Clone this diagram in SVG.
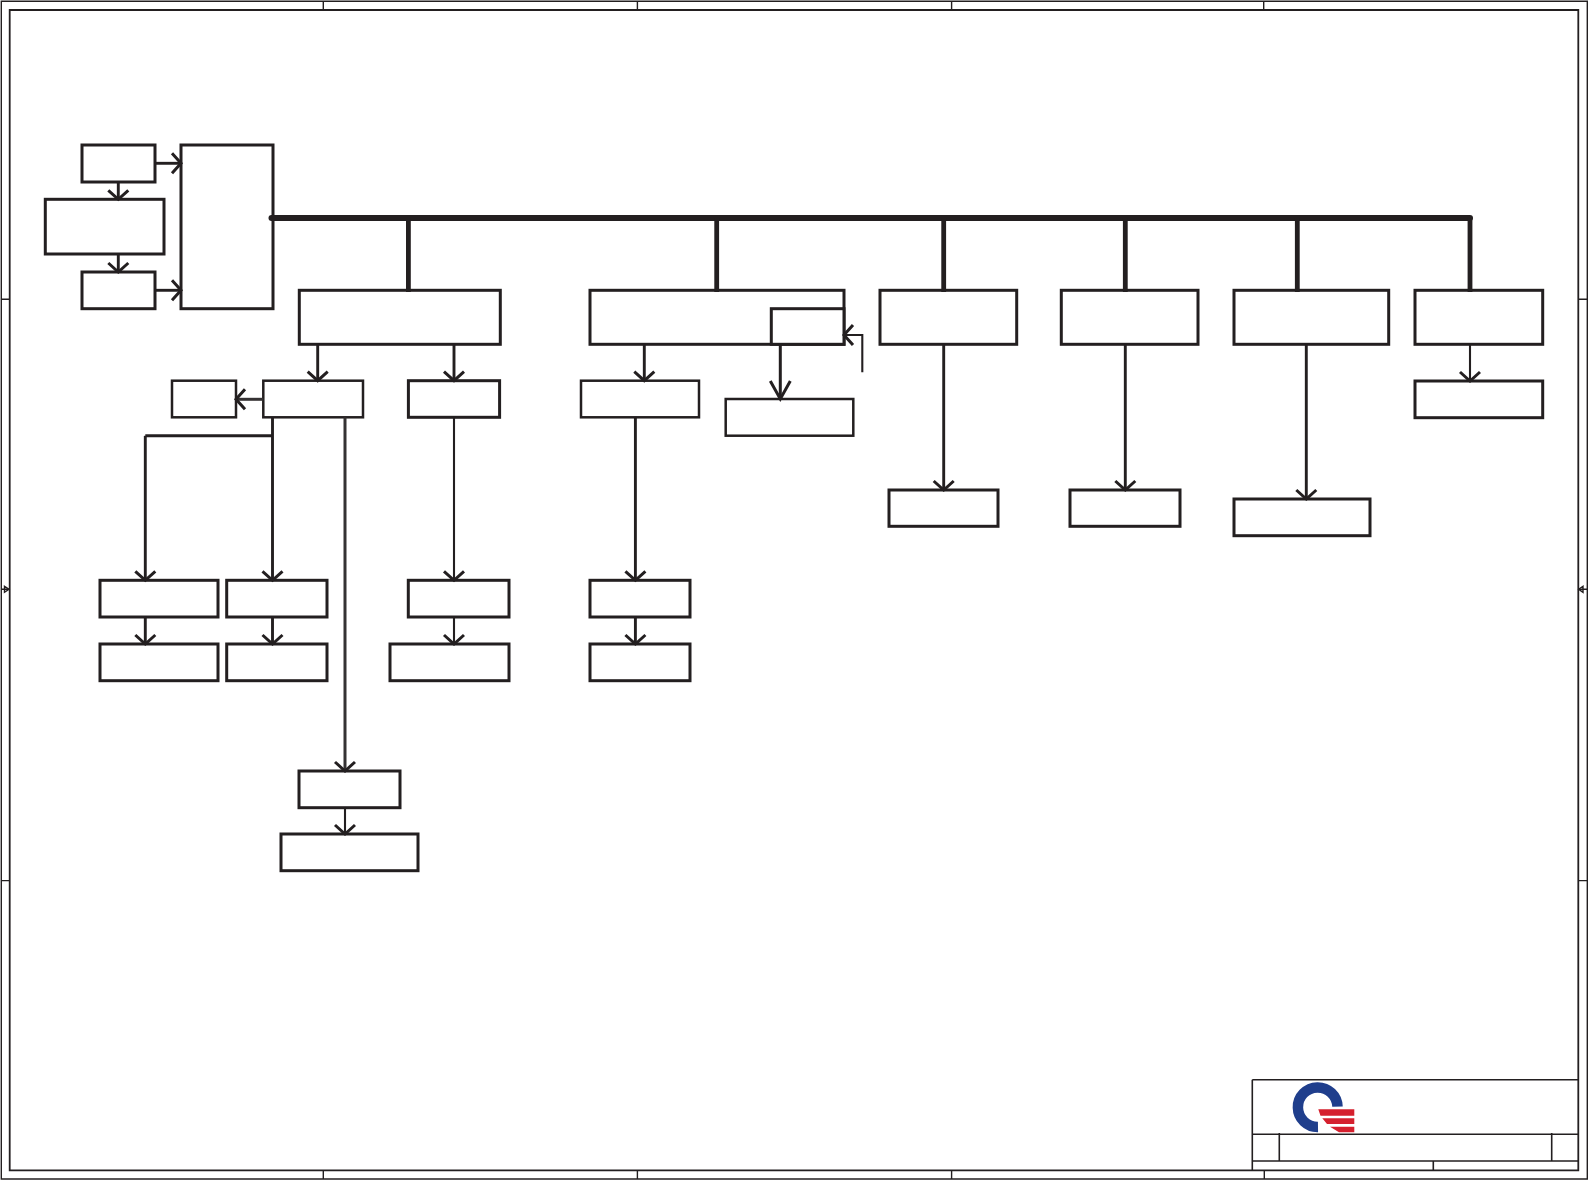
<svg xmlns="http://www.w3.org/2000/svg" width="1589" height="1180" viewBox="0 0 1589 1180">
<style>
.n rect{fill:#fff;stroke:#231f20;stroke-width:3}
.n rect.t{stroke-width:2.5}
#connectors path{fill:none;stroke:#231f20;stroke-width:2.9}
#connectors path.a{marker-end:url(#ah)}
#connectors path.big{marker-end:url(#ahb);stroke-width:3}
#connectors path.thin{stroke-width:2.1}
#connectors path.gray{stroke:#353233;stroke-width:3}
#connectors path.drop{stroke-width:4.8}
#connectors path.bus{stroke-width:6;stroke-linecap:round;stroke-linejoin:round}
#frame path{fill:none;stroke:#231f20;stroke-width:1.4}
#frame path.b{stroke-width:1.8}
</style>
<defs>
<marker id="ah" markerUnits="userSpaceOnUse" markerWidth="24" markerHeight="28" refX="12" refY="14" orient="auto" overflow="visible"><path d="M3,4 L12,14 L3,24" fill="none" stroke="#231f20" stroke-width="3"/></marker>
<marker id="ahb" markerUnits="userSpaceOnUse" markerWidth="30" markerHeight="28" refX="22" refY="14" orient="auto" overflow="visible"><path d="M4,4 L22,14 L4,24" fill="none" stroke="#231f20" stroke-width="3"/></marker>
</defs>
<rect width="1589" height="1180" fill="#fff"/>
<g id="frame">
<path d="M1.3,1.3H1587.3V1179H1.3Z"/>
<path class="b" d="M9.7,10H1578.3V1170.3H9.7Z"/>
<path d="M323.3,1.3V10M637.4,1.3V10M951.6,1.3V10M1263.7,1.3V10M323.3,1170.3V1179M637.4,1170.3V1179M951.6,1170.3V1179M1264.3,1170.3V1179"/>
<path d="M1.3,299.3H9.7M1.3,880.6H9.7M1578.3,299.3H1587.3M1578.3,880.6H1587.3M1.3,589.3H9.7M1578.3,589.3H1587.3"/>
<path d="M4.500,586.300L9,589.300L4.500,592.300ZM1583,586.300L1578.700,589.300L1583,592.300Z" fill="#231f20"/>
</g>
<g id="title-block">
<path d="M1252.3,1079.700H1578.3M1252.3,1079.700V1170.3M1252.3,1134.3H1578.3M1252.3,1161H1578.3M1279.3,1133V1161M1551.7,1133V1161M1433.3,1161V1170.3" fill="none" stroke="#231f20" stroke-width="1.6"/>
<path d="M1337.500,1106.700A19.800,19.800 0 1 0 1318,1127" fill="none" stroke="#1f3e8c" stroke-width="10.500"/>
<path d="M1318.300,1109.300H1354.300V1115.800H1320.500ZM1322.300,1118.300H1354.300V1124H1327ZM1330,1126.700H1354.300V1132.300H1339Z" fill="#d5202e"/>
</g>
<g id="nodes" class="n">
<g id="n-a"><rect x="82" y="145" width="73" height="37"/></g>
<g id="n-b"><rect x="45.300" y="199.300" width="118.700" height="54.700"/></g>
<g id="n-c"><rect x="82" y="272" width="73" height="36.700"/></g>
<g id="n-main"><rect x="181" y="145" width="92" height="163.700"/></g>
<g id="n-d"><rect x="299.300" y="290.300" width="201" height="54"/></g>
<g id="n-e"><rect x="590" y="290.300" width="254" height="54"/></g>
<g id="n-e2"><rect x="771.300" y="308.700" width="72.700" height="35.600"/></g>
<g id="n-f"><rect x="880" y="290.300" width="136.700" height="54"/></g>
<g id="n-g"><rect x="1061.300" y="290.300" width="136.700" height="54"/></g>
<g id="n-h"><rect x="1234" y="290.300" width="154.700" height="54"/></g>
<g id="n-i"><rect x="1415" y="290.300" width="127.700" height="54"/></g>
<g id="n-j"><rect class="t" x="172" y="380.700" width="64" height="36.600"/></g>
<g id="n-k"><rect class="t" x="263.300" y="380.700" width="99.700" height="36.600"/></g>
<g id="n-l"><rect x="408.400" y="380.700" width="91.200" height="36.600"/></g>
<g id="n-m"><rect class="t" x="581" y="380.700" width="118" height="36.600"/></g>
<g id="n-n"><rect class="t" x="725.700" y="399" width="127.600" height="36.700"/></g>
<g id="n-o"><rect x="1415" y="381" width="127.700" height="36.700"/></g>
<g id="n-p"><rect x="889" y="490" width="109" height="36.300"/></g>
<g id="n-q"><rect x="1070" y="490" width="110" height="36.300"/></g>
<g id="n-r"><rect x="1234" y="499" width="136" height="36.700"/></g>
<g id="n-s"><rect x="100" y="580.300" width="118" height="36.700"/></g>
<g id="n-t"><rect x="226.700" y="580.300" width="100.300" height="36.700"/></g>
<g id="n-u"><rect x="408.300" y="580.300" width="100.700" height="36.700"/></g>
<g id="n-v"><rect x="590" y="580.300" width="100" height="36.700"/></g>
<g id="n-w"><rect x="100" y="644" width="118" height="36.700"/></g>
<g id="n-x"><rect x="226.700" y="644" width="100.300" height="36.700"/></g>
<g id="n-y"><rect x="390" y="644" width="119" height="36.700"/></g>
<g id="n-z"><rect x="590" y="644" width="100" height="36.700"/></g>
<g id="n-aa"><rect x="299" y="771" width="101" height="36.700"/></g>
<g id="n-ab"><rect x="281" y="834" width="137" height="36.700"/></g>
</g>
<g id="connectors">
<path class="bus" d="M271.500,218H1470"/>
<path class="drop" d="M408.400,218V292M716.700,218V292M943.700,218V292M1125.300,218V292M1297.300,218V292M1470,218V292"/>
<path class="a" d="M155,163.300H181"/>
<path class="a" d="M155,290.300H181"/>
<path class="a" d="M118.300,182V199.300"/>
<path class="a" d="M118.300,254V272"/>
<path class="a" d="M317.700,344.300V380.700"/>
<path class="a" d="M454,344.300V380.700"/>
<path class="a" d="M644.300,344.300V380.700"/>
<path class="big" d="M780.300,344.300V399"/>
<path class="a thin" d="M862.300,372.300V335H844"/>
<path class="a gray" d="M263.300,399.300H236"/>
<path d="M272.700,435.800H145.300"/>
<path class="a" d="M145.300,435.800V580.300"/>
<path class="a" d="M272.500,417.300V580.300"/>
<path class="a gray" d="M345,417.300V771"/>
<path class="a thin" d="M454,417.300V580.300"/>
<path class="a" d="M635.400,417.300V580.300"/>
<path class="a" d="M145.300,617V644"/>
<path class="a" d="M272.500,617V644"/>
<path class="a thin" d="M454,617V644"/>
<path class="a" d="M635.400,617V644"/>
<path class="a thin" d="M345,807.700V834"/>
<path class="a" d="M943.700,344.300V490"/>
<path class="a" d="M1125.300,344.300V490"/>
<path class="a" d="M1306.300,344.300V499"/>
<path class="a thin" d="M1470,344.300V381"/>
</g>
</svg>
